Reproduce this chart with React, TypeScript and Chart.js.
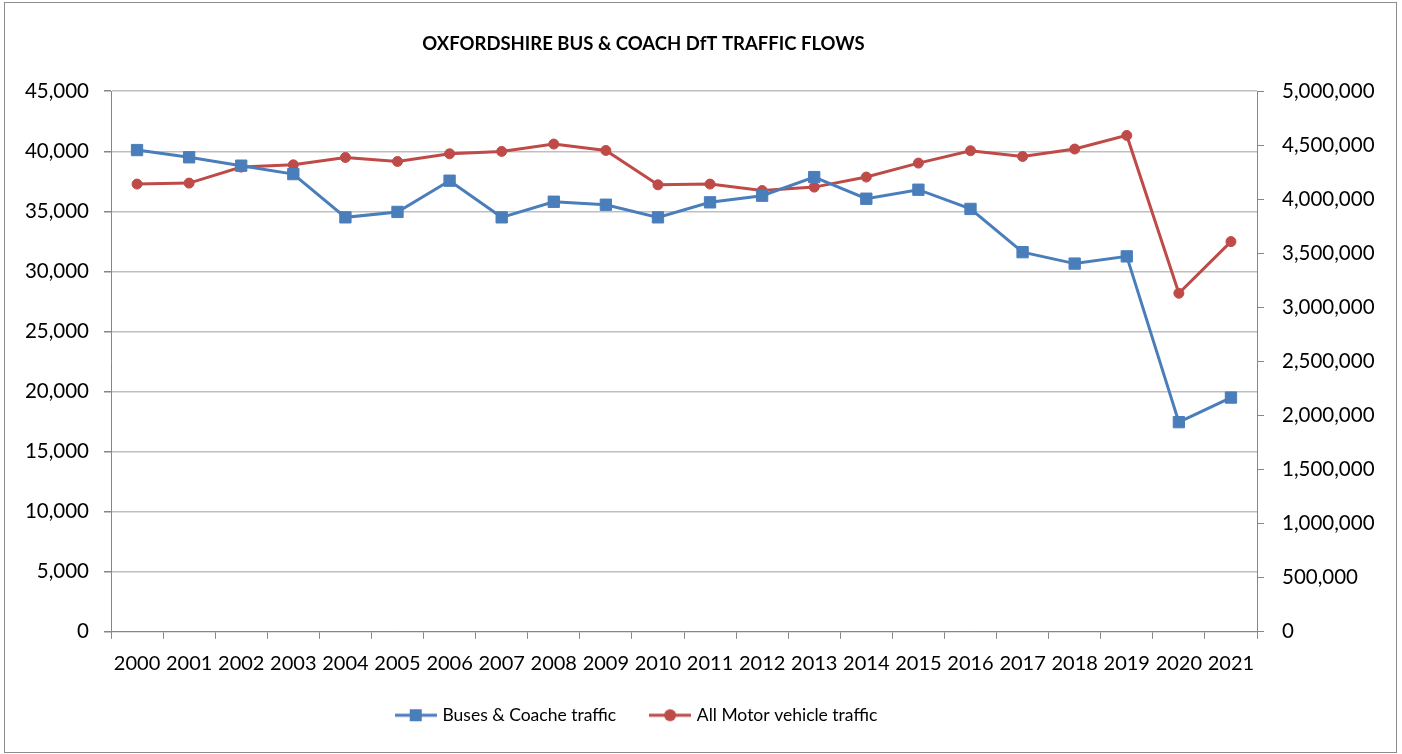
import React, { useEffect, useRef } from "react";
import { Chart, registerables } from "chart.js";

Chart.register(...registerables);

const years = [
  "2000", "2001", "2002", "2003", "2004", "2005", "2006", "2007", "2008", "2009", "2010",
  "2011", "2012", "2013", "2014", "2015", "2016", "2017", "2018", "2019", "2020", "2021",
];

const busCoachTraffic = [
  40100, 39500, 38800, 38100, 34500, 34950, 37550, 34500, 35800, 35550, 34500,
  35750, 36300, 37850, 36050, 36800, 35200, 31600, 30650, 31250, 17450, 19500,
];

const allMotorTraffic = [
  4141000, 4150000, 4298000, 4319000, 4387000, 4350000, 4421000, 4443000, 4511000, 4452000, 4134000,
  4141000, 4081000, 4113000, 4206000, 4335000, 4449000, 4396000, 4465000, 4591000, 3131000, 3609000,
];

const seriesNames = ["Buses & Coache traffic", "All Motor vehicle traffic"];
const chartTitle = "OXFORDSHIRE BUS & COACH DfT TRAFFIC FLOWS";

const BLUE = "#4A7EBB";
const RED = "#BE4B48";
const FONT = "Lato";

function legendIcon(color: string, kind: "square" | "circle"): HTMLCanvasElement {
  const c = document.createElement("canvas");
  c.width = 42;
  c.height = 14;
  const ctx = c.getContext("2d")!;
  ctx.strokeStyle = color;
  ctx.lineWidth = 3;
  ctx.beginPath();
  ctx.moveTo(0, 7);
  ctx.lineTo(42, 7);
  ctx.stroke();
  ctx.fillStyle = color;
  if (kind === "square") {
    ctx.fillRect(15, 1, 12, 12);
  } else {
    ctx.beginPath();
    ctx.arc(21, 7, 6, 0, Math.PI * 2);
    ctx.fill();
  }
  return c;
}

const fmt = (v: any) => Number(v).toLocaleString("en-US");

// Excel places the title and legend slightly left of the canvas centre
const shiftBlocks = {
  id: "shiftBlocks",
  afterLayout(chart: any) {
    const t = chart.titleBlock;
    if (t) {
      t.left -= 57;
      t.right -= 57;
    }
    const l = chart.legend;
    if (l) {
      l.left -= 63;
      l.right -= 63;
    }
  },
};

export default function App() {
  const ref = useRef<HTMLCanvasElement | null>(null);

  useEffect(() => {
    if (!ref.current) return;
    const icons = [legendIcon(BLUE, "square"), legendIcon(RED, "circle")];
    const chart = new Chart(ref.current, {
      type: "line",
      data: {
        labels: years,
        datasets: [
          {
            label: seriesNames[0],
            data: busCoachTraffic,
            yAxisID: "y",
            borderColor: BLUE,
            backgroundColor: BLUE,
            borderWidth: 3,
            pointStyle: "rect",
            pointRadius: 8,
            pointBorderWidth: 1,
            pointBorderColor: BLUE,
            pointBackgroundColor: BLUE,
            tension: 0,
          },
          {
            label: seriesNames[1],
            data: allMotorTraffic,
            yAxisID: "y1",
            borderColor: RED,
            backgroundColor: RED,
            borderWidth: 3,
            pointStyle: "circle",
            pointRadius: 5,
            pointBorderWidth: 1,
            pointBorderColor: RED,
            pointBackgroundColor: RED,
            tension: 0,
          },
        ],
      },
      plugins: [shiftBlocks],
      options: {
        animation: false,
        responsive: false,
        devicePixelRatio: 1,
        layout: { padding: { left: 0, right: 0, top: 0, bottom: 18 } },
        font: { family: FONT },
        plugins: {
          tooltip: { enabled: false },
          title: {
            display: true,
            text: chartTitle,
            color: "#000",
            font: { family: FONT, size: 18.5, weight: "bold" },
            padding: { top: 29.5, bottom: 36.5 },
          },
          legend: {
            position: "bottom",
            labels: {
              usePointStyle: true,
              pointStyleWidth: 36,
              padding: 36,
              color: "#000",
              font: { family: FONT, size: 17.5 },
              generateLabels: (c: any) =>
                Chart.defaults.plugins.legend.labels
                  .generateLabels(c)
                  .map((l: any, i: number) => ({ ...l, pointStyle: icons[i] })),
            },
          },
        },
        scales: {
          x: {
            type: "category",
            offset: true,
            grid: {
              offset: true,
              drawOnChartArea: false,
              drawTicks: true,
              tickLength: 7,
              tickColor: "#868686",
            },
            border: { color: "#868686", width: 1 },
            ticks: {
              autoSkip: false,
              maxRotation: 0,
              padding: 13,
              color: "#000",
              font: { family: FONT, size: 20 },
            },
            afterFit: (s: any) => {
              s.height = 38.7;
            },
          },
          y: {
            type: "linear",
            position: "left",
            min: 0,
            max: 45000,
            ticks: {
              stepSize: 5000,
              padding: 15,
              color: "#000",
              font: { family: FONT, size: 20.5 },
              callback: fmt,
            },
            grid: { color: "#BFBFBF", lineWidth: 1.5, tickLength: 7, tickColor: "#868686" },
            border: { color: "#868686", width: 1 },
            afterFit: (s: any) => {
              s.width = 106;
            },
          },
          y1: {
            type: "linear",
            position: "right",
            min: 0,
            max: 5000000,
            ticks: {
              stepSize: 500000,
              padding: 18,
              color: "#000",
              font: { family: FONT, size: 20.5 },
              callback: fmt,
            },
            grid: { drawOnChartArea: false, tickLength: 7, tickColor: "#868686" },
            border: { color: "#868686", width: 1 },
            afterFit: (s: any) => {
              s.width = 139;
            },
          },
        },
      } as any,
    });
    return () => chart.destroy();
  }, []);

  return (
    <div
      style={{
        position: "absolute",
        left: 4,
        top: 2,
        width: 1393,
        height: 751,
        boxSizing: "border-box",
        border: "1px solid #8C8C8C",
        background: "#fff",
      }}
    >
      <canvas ref={ref} width={1391} height={749} style={{ display: "block" }} />
    </div>
  );
}
